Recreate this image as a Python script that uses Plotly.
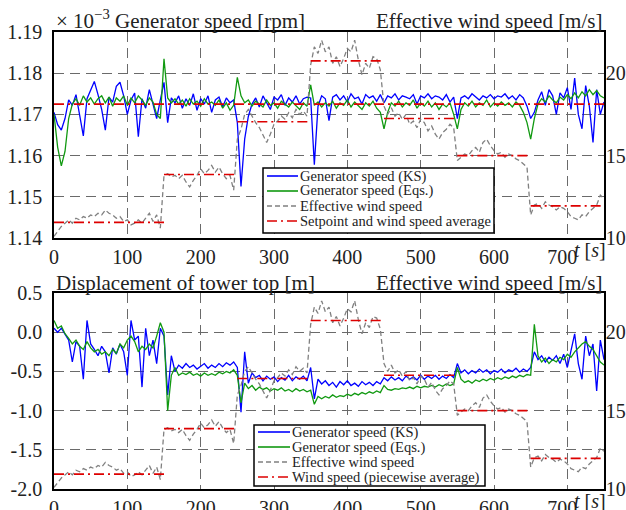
import plotly.graph_objects as go
from plotly.subplots import make_subplots

# ---------------- data ----------------
t = list(range(0, 755, 5))

wind = [10.1, 10.4, 10.7, 10.9, 11.1, 10.9, 11.2, 11.1, 11.3, 11.2,
        11.4, 11.3, 11.5, 11.4, 11.7, 11.5, 11.4, 11.2, 11.3, 11.0,
        11.1, 10.8, 10.9, 11.1, 10.9, 11.2, 11.5, 11.0, 11.4, 10.6,
        13.8, 13.9, 13.7, 13.8, 13.6, 13.8, 13.4, 13.1, 13.5, 13.8,
        14.2, 13.9, 14.1, 14.4, 14.0, 14.3, 13.9, 13.6, 13.8, 12.9,
        16.0, 16.6, 17.5, 17.8, 17.4, 17.0, 16.7, 16.2, 15.8, 16.3,
        16.9, 17.1, 17.4, 17.2, 17.6, 17.3, 17.8, 17.5, 17.7, 17.4,
        20.5, 21.6, 21.2, 22.0, 21.3, 21.6, 20.6, 21.0, 20.4, 20.9,
        21.5, 21.3, 22.0, 20.8, 19.9, 20.6, 20.3, 21.0, 20.9, 20.2,
        18.0, 17.5, 17.9, 17.4, 17.6, 17.2, 17.5, 16.9, 17.1, 16.7,
        17.2, 17.0, 16.5, 16.8, 16.3, 16.0, 16.4, 16.6, 16.9, 16.7,
        14.7, 14.9, 15.1, 15.0, 15.3, 15.5, 15.2, 15.8, 16.0, 15.6,
        15.3, 15.1, 15.2, 14.9, 15.1, 15.0, 14.8, 14.7, 14.5, 14.3,
        11.4, 12.0, 12.1, 11.8, 12.2, 12.0, 11.9, 11.7, 11.9, 11.8,
        11.6, 11.3, 11.2, 11.1, 11.4, 11.3, 11.6, 11.8, 12.0, 12.6,
        12.4]

gen_ks = [1.1705, 1.1675, 1.1662, 1.1690, 1.1735, 1.1722, 1.1748, 1.1700, 1.1648, 1.1738,
          1.1760, 1.1780, 1.1748, 1.1712, 1.1662, 1.1742, 1.1730, 1.1768, 1.1778, 1.1745,
          1.1700, 1.1735, 1.1752, 1.1646, 1.1738, 1.1715, 1.1760, 1.1725, 1.1690, 1.1735,
          1.1778, 1.1680, 1.1740, 1.1728, 1.1745, 1.1715, 1.1738, 1.1722, 1.1750, 1.1710,
          1.1738, 1.1725, 1.1745, 1.1705, 1.1735, 1.1742, 1.1718, 1.1740, 1.1728, 1.1735,
          1.1680, 1.1525, 1.1640, 1.1695, 1.1725, 1.1740, 1.1718, 1.1745, 1.1730, 1.1712,
          1.1742, 1.1735, 1.1748, 1.1722, 1.1740, 1.1730, 1.1745, 1.1725, 1.1738, 1.1742,
          1.1740, 1.1578, 1.1720, 1.1745, 1.1738, 1.1685, 1.1742, 1.1748, 1.1735, 1.1745,
          1.1730, 1.1750, 1.1738, 1.1742, 1.1725, 1.1748, 1.1740, 1.1745, 1.1732, 1.1748,
          1.1728, 1.1745, 1.1740, 1.1750, 1.1735, 1.1745, 1.1742, 1.1738, 1.1748, 1.1725,
          1.1745, 1.1740, 1.1750, 1.1738, 1.1745, 1.1742, 1.1735, 1.1748, 1.1730, 1.1742,
          1.1690, 1.1740, 1.1745, 1.1738, 1.1750, 1.1742, 1.1735, 1.1745, 1.1740, 1.1748,
          1.1738, 1.1745, 1.1742, 1.1750, 1.1738, 1.1745, 1.1735, 1.1748, 1.1740, 1.1720,
          1.1690, 1.1705, 1.1735, 1.1755, 1.1722, 1.1760, 1.1745, 1.1700, 1.1752, 1.1740,
          1.1765, 1.1712, 1.1788, 1.1700, 1.1665, 1.1770, 1.1720, 1.1632, 1.1760, 1.1700,
          1.1730]

gen_eqs = [1.1700, 1.1620, 1.1575, 1.1610, 1.1690, 1.1725, 1.1738, 1.1722, 1.1745, 1.1730,
           1.1740, 1.1725, 1.1738, 1.1745, 1.1728, 1.1742, 1.1720, 1.1740, 1.1732, 1.1745,
           1.1722, 1.1740, 1.1728, 1.1745, 1.1735, 1.1722, 1.1740, 1.1730, 1.1700, 1.1690,
           1.1835, 1.1740, 1.1728, 1.1738, 1.1725, 1.1735, 1.1720, 1.1738, 1.1725, 1.1732,
           1.1720, 1.1738, 1.1725, 1.1730, 1.1722, 1.1735, 1.1715, 1.1728, 1.1710, 1.1722,
           1.1790, 1.1745, 1.1728, 1.1735, 1.1720, 1.1732, 1.1725, 1.1718, 1.1735, 1.1722,
           1.1728, 1.1715, 1.1732, 1.1725, 1.1718, 1.1730, 1.1722, 1.1712, 1.1728, 1.1720,
           1.1772, 1.1722, 1.1730, 1.1718, 1.1728, 1.1720, 1.1732, 1.1715, 1.1728, 1.1722,
           1.1735, 1.1718, 1.1730, 1.1722, 1.1712, 1.1728, 1.1720, 1.1732, 1.1715, 1.1705,
           1.1665, 1.1705, 1.1728, 1.1720, 1.1732, 1.1718, 1.1728, 1.1722, 1.1735, 1.1715,
           1.1728, 1.1720, 1.1732, 1.1718, 1.1728, 1.1712, 1.1725, 1.1718, 1.1728, 1.1700,
           1.1665, 1.1712, 1.1728, 1.1720, 1.1732, 1.1718, 1.1728, 1.1722, 1.1735, 1.1718,
           1.1728, 1.1720, 1.1730, 1.1722, 1.1728, 1.1718, 1.1730, 1.1722, 1.1705, 1.1680,
           1.1640, 1.1690, 1.1725, 1.1738, 1.1730, 1.1745, 1.1735, 1.1728, 1.1742, 1.1735,
           1.1748, 1.1738, 1.1752, 1.1740, 1.1755, 1.1745, 1.1760, 1.1748, 1.1758, 1.1745,
           1.1740]

disp_ks = [0.05, 0.00, 0.05, -0.02, -0.10, -0.38, -0.12, -0.18, -0.60, 0.15,
           -0.15, -0.22, -0.30, -0.18, -0.25, -0.52, -0.20, -0.28, -0.15, -0.25,
           -0.55, 0.15, -0.10, -0.05, -0.70, 0.05, -0.30, -0.10, -0.40, 0.05,
           -0.05, -0.80, -0.30, -0.50, -0.42, -0.46, -0.40, -0.45, -0.42, -0.47,
           -0.43, -0.40, -0.46, -0.42, -0.45, -0.40, -0.44, -0.39, -0.42, -0.38,
           -0.45, -1.02, -0.25, -0.65, -0.52, -0.58, -0.55, -0.62, -0.56, -0.60,
           -0.57, -0.63, -0.58, -0.61, -0.55, -0.62, -0.57, -0.60, -0.56, -0.62,
           -0.45, -0.85, -0.60, -0.66, -0.62, -0.68, -0.64, -0.70, -0.63, -0.67,
           -0.62, -0.68, -0.65, -0.69, -0.63, -0.67, -0.64, -0.68, -0.63, -0.66,
           -0.58, -0.62, -0.57, -0.61, -0.58, -0.62, -0.56, -0.60, -0.57, -0.61,
           -0.55, -0.60, -0.56, -0.59, -0.55, -0.60, -0.56, -0.59, -0.54, -0.58,
           -0.40, -0.52, -0.48, -0.53, -0.49, -0.52, -0.47, -0.51, -0.48, -0.53,
           -0.49, -0.51, -0.47, -0.52, -0.48, -0.50, -0.46, -0.51, -0.47, -0.50,
           -0.45, -0.25, -0.35, -0.30, -0.38, -0.32, -0.36, -0.30, -0.40, -0.28,
           -0.45, -0.22, -0.02, -0.40, -0.60, -0.05, -0.30, -0.15, -0.75, -0.10,
           -0.35]

disp_eqs = [0.15, 0.05, 0.08, -0.02, -0.08, -0.15, -0.10, -0.18, -0.22, -0.12,
            -0.20, -0.25, -0.22, -0.28, -0.25, -0.30, -0.22, -0.27, -0.15, -0.20,
            -0.10, -0.05, -0.12, -0.25, -0.18, -0.22, -0.15, -0.20, -0.05, 0.12,
            0.00, -1.00, -0.55, -0.45, -0.55, -0.52, -0.54, -0.51, -0.55, -0.53,
            -0.56, -0.52, -0.55, -0.53, -0.55, -0.51, -0.53, -0.50, -0.52, -0.48,
            -0.55, -0.90, -0.65, -0.72, -0.68, -0.74, -0.70, -0.73, -0.71, -0.75,
            -0.72, -0.74, -0.71, -0.75, -0.73, -0.76, -0.72, -0.75, -0.73, -0.76,
            -0.74, -0.92, -0.82, -0.85, -0.82, -0.84, -0.80, -0.83, -0.81, -0.82,
            -0.79, -0.81, -0.78, -0.80, -0.77, -0.79, -0.76, -0.78, -0.75, -0.77,
            -0.68, -0.73, -0.74, -0.72, -0.73, -0.71, -0.72, -0.70, -0.72, -0.69,
            -0.71, -0.69, -0.70, -0.68, -0.70, -0.67, -0.69, -0.66, -0.68, -0.66,
            -0.45, -0.60, -0.64, -0.62, -0.65, -0.61, -0.63, -0.60, -0.62, -0.59,
            -0.61, -0.58, -0.60, -0.57, -0.59, -0.56, -0.58, -0.55, -0.57, -0.54,
            -0.55, 0.10, -0.30, -0.38, -0.33, -0.40, -0.35, -0.38, -0.32, -0.35,
            -0.28, -0.32, -0.25, -0.20, -0.15, -0.12, -0.18, -0.22, -0.30, -0.38,
            -0.42]

seg_edges = [0, 150, 250, 350, 450, 550, 650, 750]
seg_avg = [10.95, 13.85, 17.05, 20.75, 17.25, 15.0, 11.95]
setpoint = 1.1725

x_ticks = [0, 100, 200, 300, 400, 500, 600, 700]
x_ticklabels = ["0", "100", "200", "300", "400", "500", "600", "700\u2002"]
top_left_ticks = [1.14, 1.15, 1.16, 1.17, 1.18, 1.19]
top_left_labels = ["1.14", "1.15", "1.16", "1.17", "1.18", "1.19"]
bot_left_ticks = [-2.0, -1.5, -1.0, -0.5, 0.0, 0.5]
bot_left_labels = ["-2.0", "-1.5", "-1.0", "-0.5", "0.0", "0.5"]
right_ticks = [10, 15, 20]

top_legend = ["Generator speed (KS)", "Generator speed (Eqs.)",
              "Effective wind speed", "Setpoint and wind speed average"]
bot_legend = ["Generator speed (KS)", "Generator speed (Eqs.)",
              "Effective wind speed", "Wind speed (piecewise average)"]

# ---------------- styles ----------------
BLUE = "#0000ff"
GREEN = "#119911"
GRAY = "#808080"
RED = "#dd0000"
FONT = "Liberation Serif, Times New Roman, Times, DejaVu Serif, serif"
TXT = "#222222"

W, H = 626, 510
ML, MR, MT, MB = 54, 22, 32, 21
PW, PH = W - ML - MR, H - MT - MB


def px(xp):
    return (xp - ML) / PW


def py(yp):
    return (H - MB - yp) / PH


seg_x, seg_y = [], []
for i, a in enumerate(seg_avg):
    seg_x += [seg_edges[i], seg_edges[i + 1], None]
    seg_y += [a, a, None]

fig = make_subplots(rows=2, cols=1, specs=[[{"secondary_y": True}], [{"secondary_y": True}]])

line_ks = dict(color=BLUE, width=1.3)
line_eq = dict(color=GREEN, width=1.3)
line_w = dict(color=GRAY, width=1.3, dash="5px,3px")
line_r = dict(color=RED, width=1.6, dash="10px,4px,2px,4px")

# top
fig.add_trace(go.Scatter(x=t, y=gen_ks, mode="lines", line=line_ks, showlegend=False), row=1, col=1)
fig.add_trace(go.Scatter(x=t, y=gen_eqs, mode="lines", line=line_eq, showlegend=False), row=1, col=1)
fig.add_trace(go.Scatter(x=[seg_edges[0], seg_edges[-1]], y=[setpoint, setpoint], mode="lines",
                         line=line_r, showlegend=False), row=1, col=1)
fig.add_trace(go.Scatter(x=t, y=wind, mode="lines", line=line_w, showlegend=False), row=1, col=1, secondary_y=True)
fig.add_trace(go.Scatter(x=seg_x, y=seg_y, mode="lines", line=line_r, showlegend=False), row=1, col=1, secondary_y=True)
# bottom
fig.add_trace(go.Scatter(x=t, y=disp_ks, mode="lines", line=line_ks, showlegend=False), row=2, col=1)
fig.add_trace(go.Scatter(x=t, y=disp_eqs, mode="lines", line=line_eq, showlegend=False), row=2, col=1)
fig.add_trace(go.Scatter(x=t, y=wind, mode="lines", line=line_w, showlegend=False), row=2, col=1, secondary_y=True)
fig.add_trace(go.Scatter(x=seg_x, y=seg_y, mode="lines", line=line_r, showlegend=False), row=2, col=1, secondary_y=True)

tickfont = dict(family=FONT, size=20, color=TXT)
grid = dict(showgrid=True, gridcolor="#6a6a6a", gridwidth=1.2, griddash="10px,6px")
xax = dict(range=[0, 750], tickvals=x_ticks, ticktext=x_ticklabels,
           showline=True, linecolor="black", linewidth=1.5, mirror=True, ticks="",
           zeroline=False, tickfont=tickfont, automargin=False, ticklabeloverflow="allow", **grid)
yleft = dict(showline=True, linecolor="black", linewidth=1.5, mirror=True, ticks="",
             zeroline=False, tickfont=tickfont, automargin=False, ticklabelstandoff=6,
             ticklabeloverflow="allow", **grid)
yright = dict(range=[10, 22.5], tickvals=right_ticks, ticktext=[str(v) for v in right_ticks],
              showgrid=False, showline=True, linecolor="black", linewidth=1.5, ticks="",
              zeroline=False, tickfont=tickfont, automargin=False, side="right",
              ticklabeloverflow="allow", ticklabelstandoff=-4)

top_lo, top_hi = py(238), 1.0
bot_lo, bot_hi = 0.0, py(293)

fig.update_layout(
    width=W, height=H, margin=dict(l=ML, r=MR, t=MT, b=MB),
    paper_bgcolor="white", plot_bgcolor="white", showlegend=False,
    xaxis=dict(xax, domain=[0, 1]),
    xaxis2=dict(xax, domain=[0, 1]),
    yaxis=dict(yleft, domain=[top_lo, top_hi], range=[1.14, 1.19],
               tickvals=top_left_ticks, ticktext=top_left_labels),
    yaxis2=dict(yright),
    yaxis3=dict(yleft, domain=[bot_lo, bot_hi], range=[-2.0, 0.5],
                tickvals=bot_left_ticks, ticktext=bot_left_labels),
    yaxis4=dict(yright),
)

ann = []
shapes = []
tfont = dict(family=FONT, size=21, color=TXT)
ann.append(dict(x=0, y=top_hi, xref="paper", yref="paper", xanchor="left", yanchor="bottom",
                text="× 10<sup>−3</sup> Generator speed [rpm]", showarrow=False, font=tfont, yshift=-3))
ann.append(dict(x=1, y=top_hi, xref="paper", yref="paper", xanchor="right", yanchor="bottom",
                text="Effective wind speed [m/s]", showarrow=False, font=tfont, yshift=-3))
ann.append(dict(x=0, y=bot_hi, xref="paper", yref="paper", xanchor="left", yanchor="bottom",
                text="Displacement of tower top [m]", showarrow=False, font=tfont, yshift=-4))
ann.append(dict(x=1, y=bot_hi, xref="paper", yref="paper", xanchor="right", yanchor="bottom",
                text="Effective wind speed [m/s]", showarrow=False, font=tfont, yshift=-4))
for ylo in (top_lo, bot_lo):
    ann.append(dict(x=1, y=ylo, xref="paper", yref="paper", xanchor="right", yanchor="top",
                    text="<i>t</i> [<i>s</i>]", showarrow=False,
                    font=dict(family=FONT, size=20, color=TXT), xshift=3, borderpad=0))


def legend(box, line_x0, line_x1, text_x, ys, labels):
    x0, y0, x1, y1 = box
    shapes.append(dict(type="rect", xref="paper", yref="paper", x0=px(x0), x1=px(x1),
                       y0=py(y0), y1=py(y1), line=dict(color="black", width=1.5),
                       fillcolor="white", layer="above"))
    styles = [line_ks, line_eq, line_w, line_r]
    for yy, lab, st in zip(ys, labels, styles):
        shapes.append(dict(type="line", xref="paper", yref="paper", x0=px(line_x0), x1=px(line_x1),
                           y0=py(yy), y1=py(yy), line=dict(color=st["color"], width=1.6,
                                                           dash=st.get("dash", "solid")),
                           layer="above"))
        ann.append(dict(x=px(text_x), y=py(yy), xref="paper", yref="paper", xanchor="left",
                        yanchor="middle", text=lab, showarrow=False,
                        font=dict(family=FONT, size=14.5, color=TXT), borderpad=0))


legend((263, 168, 494, 233), 267, 298, 299, [176, 191, 206, 221], top_legend)
legend((254, 425, 485, 486), 258, 290, 291, [432, 447, 462, 477], bot_legend)

fig.update_layout(annotations=ann, shapes=shapes)
fig.write_html("out.html", config={"displayModeBar": False},
               post_script="document.body.style.margin='0px';")
